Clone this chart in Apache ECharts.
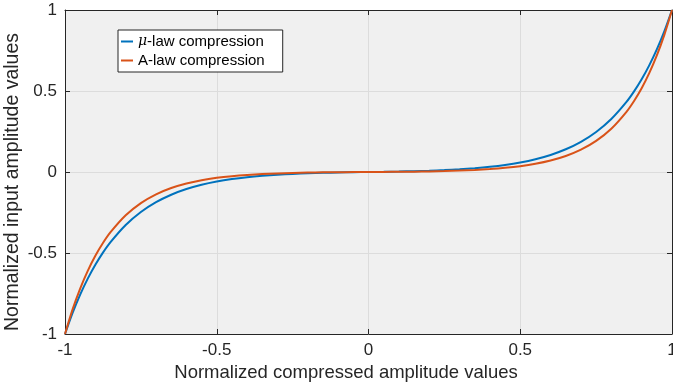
<!DOCTYPE html>
<html>
<head>
<meta charset="utf-8">
<script src="https://cdn.jsdelivr.net/npm/echarts@6/dist/echarts.min.js"></script>
<style>
html,body{margin:0;padding:0;background:#fff;}
#chart{width:673px;height:388px;}
</style>
</head>
<body>
<div id="chart"></div>
<script>
const xValues = [-1, -0.975, -0.95, -0.925, -0.9, -0.875, -0.85, -0.8, -0.75, -0.7, -0.65, -0.6, -0.55, -0.5, -0.45, -0.4, -0.35, -0.3, -0.25, -0.2, -0.15, -0.1, -0.05,
  0, 0.05, 0.1, 0.15, 0.2, 0.25, 0.3, 0.35, 0.4, 0.45, 0.5, 0.55, 0.6, 0.65, 0.7, 0.75, 0.8, 0.85, 0.875, 0.9, 0.925, 0.95, 0.975, 1];
const muLawValues = [-1, -0.8702, -0.7569, -0.6584, -0.5727, -0.4980, -0.4331, -0.3273, -0.2471, -0.1863, -0.1402, -0.1053, -0.0789, -0.0588, -0.0436, -0.0321, -0.0234, -0.0168, -0.0118, -0.0080, -0.0051, -0.0029, -0.0013,
  0, 0.0013, 0.0029, 0.0051, 0.0080, 0.0118, 0.0168, 0.0234, 0.0321, 0.0436, 0.0588, 0.0789, 0.1053, 0.1402, 0.1863, 0.2471, 0.3273, 0.4331, 0.4980, 0.5727, 0.6584, 0.7569, 0.8702, 1];
const aLawValues = [-1, -0.8482, -0.7193, -0.6102, -0.5173, -0.4386, -0.3718, -0.2672, -0.1919, -0.1377, -0.0987, -0.0707, -0.0505, -0.0359, -0.0255, -0.0179, -0.0125, -0.0086, -0.0058, -0.0038, -0.0023, -0.0013, -0.0005,
  0, 0.0005, 0.0013, 0.0023, 0.0038, 0.0058, 0.0086, 0.0125, 0.0179, 0.0255, 0.0359, 0.0505, 0.0707, 0.0987, 0.1377, 0.1919, 0.2672, 0.3718, 0.4386, 0.5173, 0.6102, 0.7193, 0.8482, 1];
const xTicks = [-1, -0.5, 0, 0.5, 1];
const yTicks = [-1, -0.5, 0, 0.5, 1];
const seriesNames = ['μ-law compression', 'A-law compression'];
const xTitle = 'Normalized compressed amplitude values';
const yTitle = 'Normalized input amplitude values';

const FONT = '"Liberation Sans", Arial, Helvetica, sans-serif';
const AX = '#262626';
const GRIDC = '#dcdcdc';

function pairs(xs, ys){ return xs.map((x,i)=>[x, ys[i]]); }

const chart = echarts.init(document.getElementById('chart'), null, {renderer:'canvas'});
const tickStep = xTicks[1]-xTicks[0];
const baseAxis = {
  type:'value',
  axisLine:{show:true, onZero:false, lineStyle:{color:AX, width:1}},
  axisTick:{show:true, inside:true, length:5, lineStyle:{color:AX}},
  splitLine:{show:false},
  axisLabel:{show:false}
};
chart.setOption({
  animation:false,
  backgroundColor:'#ffffff',
  grid:{left:65, right:1, top:10, bottom:54, show:true, backgroundColor:'#f0f0f0', borderWidth:0,
        containLabel:false, outerBoundsMode:'none'},
  legend:{
    orient:'vertical', left:118, top:30,
    padding:[2,18,2,3], itemGap:0, itemWidth:12, itemHeight:2,
    backgroundColor:'#ffffff', borderColor:AX, borderWidth:1, borderRadius:0,
    icon:'rect',
    data:seriesNames,
    formatter:function(n){
      if(n.charAt(0)==='μ'){ return '{i|μ}{t|' + n.slice(1) + '}'; }
      return '{t|' + n + '}';
    },
    textStyle:{
      color:'#000', fontFamily:FONT, fontSize:15, lineHeight:19,
      rich:{
        i:{fontStyle:'italic', fontFamily:'"DejaVu Serif", "Liberation Serif", serif', fontSize:14, color:'#000'},
        t:{fontFamily:FONT, fontSize:15, color:'#000'}
      }
    }
  },
  xAxis:[
    Object.assign({}, baseAxis, {
      min:xTicks[0], max:xTicks[xTicks.length-1], interval:tickStep, position:'bottom',
      axisLabel:{show:true, color:AX, fontFamily:FONT, fontSize:17, margin:8},
      splitLine:{show:true, lineStyle:{color:GRIDC, width:1}},
      name:xTitle, nameLocation:'middle', nameGap:29, nameMoveOverlap:false,
      nameTextStyle:{color:AX, fontFamily:FONT, fontSize:18.5, padding:[0,45,0,0]}
    }),
    Object.assign({}, baseAxis, {min:xTicks[0], max:xTicks[xTicks.length-1], interval:tickStep, position:'top'})
  ],
  yAxis:[
    Object.assign({}, baseAxis, {
      min:yTicks[0], max:yTicks[yTicks.length-1], interval:yTicks[1]-yTicks[0], position:'left',
      axisLabel:{show:true, color:AX, fontFamily:FONT, fontSize:17, margin:8},
      splitLine:{show:true, lineStyle:{color:GRIDC, width:1}},
      name:yTitle, nameLocation:'middle', nameGap:42, nameMoveOverlap:false,
      nameTextStyle:{color:AX, fontFamily:FONT, fontSize:19.5, padding:[0,20,0,0]}
    }),
    Object.assign({}, baseAxis, {min:yTicks[0], max:yTicks[yTicks.length-1], interval:yTicks[1]-yTicks[0], position:'right'})
  ],
  series:[
    {name:seriesNames[0], type:'line', data:pairs(xValues, muLawValues), showSymbol:false, smooth:0.25,
     lineStyle:{color:'#0072BD', width:2}, itemStyle:{color:'#0072BD'}, z:3},
    {name:seriesNames[1], type:'line', data:pairs(xValues, aLawValues), showSymbol:false, smooth:0.25,
     lineStyle:{color:'#D95319', width:2}, itemStyle:{color:'#D95319'}, z:4}
  ]
});
</script>
</body>
</html>
